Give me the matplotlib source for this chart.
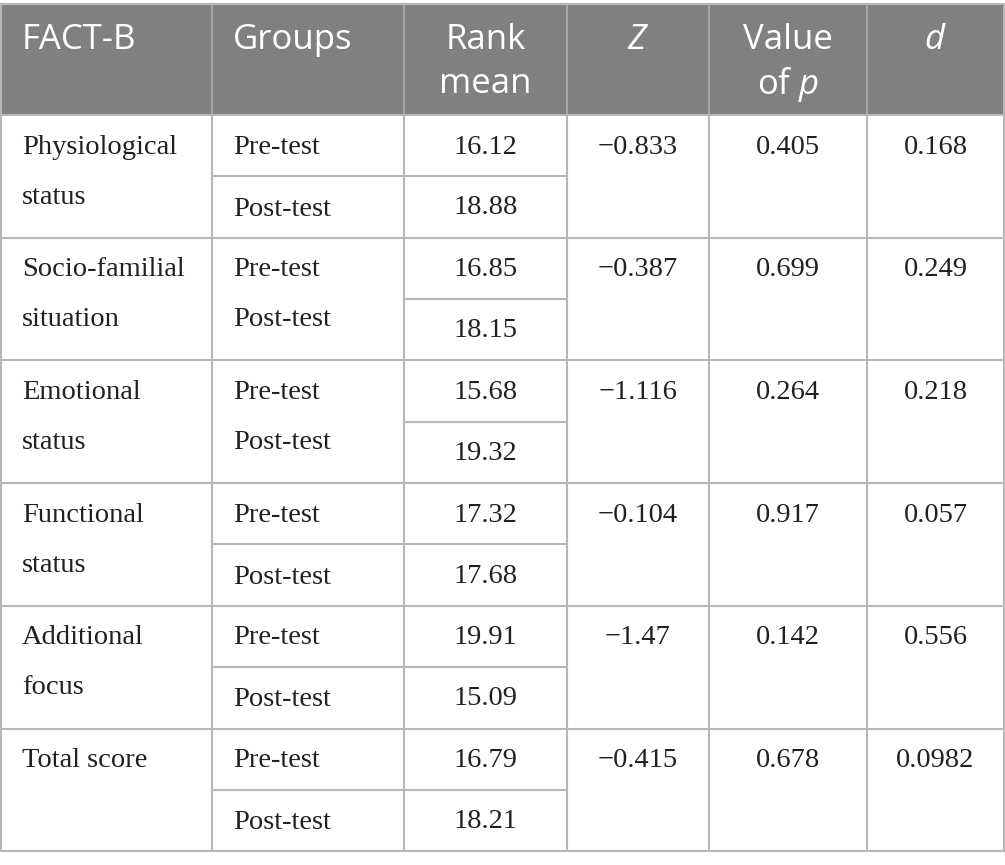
import matplotlib
matplotlib.use("Agg")
import matplotlib.pyplot as plt
from matplotlib.patches import Rectangle

plt.rcParams["mathtext.fontset"] = "custom"
plt.rcParams["mathtext.rm"] = "Open Sans"
plt.rcParams["mathtext.it"] = "Open Sans:italic"

# ---- data ----
headers = ["FACT-B", "Groups", "Rank\nmean", "$\\mathit{Z}$", "Value\nof $\\mathit{p}$", "$\\mathit{d}$"]
categories = ["Physiological\nstatus", "Socio-familial\nsituation", "Emotional\nstatus",
              "Functional\nstatus", "Additional\nfocus", "Total score"]
groups = ["Pre-test", "Post-test"]
rank_pre = ["16.12", "16.85", "15.68", "17.32", "19.91", "16.79"]
rank_post = ["18.88", "18.15", "19.32", "17.68", "15.09", "18.21"]
z_vals = ["\u22120.833", "\u22120.387", "\u22121.116", "\u22120.104", "\u22121.47", "\u22120.415"]
p_vals = ["0.405", "0.699", "0.264", "0.917", "0.142", "0.678"]
d_vals = ["0.168", "0.249", "0.218", "0.057", "0.556", "0.0982"]
merged_groups = [False, True, True, False, False, False]

# ---- layout (pixels) ----
W, H = 1005, 865
col_x = [1, 212, 404, 567, 709, 867, 1004]
top, head_bot = 4, 115
row_h = 122.7
grid_c = "#b8b8b8"
head_c = "#808080"
txt_c = "#231f20"
serif = "Liberation Serif"
sans = "Open Sans"
fs_h, fs_b = 25, 20.5

fig = plt.figure(figsize=(W / 100, H / 100), dpi=100)
ax = fig.add_axes([0, 0, 1, 1])
ax.set_xlim(0, W)
ax.set_ylim(H, 0)
ax.axis("off")

# header
ax.add_patch(Rectangle((col_x[0], top), col_x[-1] - col_x[0], head_bot - top,
                       facecolor=head_c, edgecolor="none"))
for j, h in enumerate(headers):
    parts = h.split("\n")
    if j < 2:
        ax.text(col_x[j] + 21, 40, parts[0], ha="left", va="center", color="white",
                fontsize=fs_h, family=sans)
    else:
        xc = (col_x[j] + col_x[j + 1]) / 2
        for k, part in enumerate(parts):
            ax.text(xc, 40 + k * 44, part, ha="center", va="center", color="white",
                    fontsize=fs_h, family=sans)

# body
n = len(categories)
bottom = head_bot + n * row_h
for i in range(n):
    y0 = head_bot + i * row_h
    ym = y0 + row_h / 2
    for k, ln in enumerate(categories[i].split("\n")):
        ax.text(col_x[0] + 21, y0 + 32 + k * 50, ln, ha="left", va="center",
                color=txt_c, fontsize=fs_b, family=serif)
    # groups
    gy = [y0 + 32, y0 + 82] if merged_groups[i] else [y0 + 32, y0 + 94]
    for g, yy in zip(groups, gy):
        ax.text(col_x[1] + 21, yy, g, ha="left", va="center", color=txt_c,
                fontsize=fs_b, family=serif)
    xr = (col_x[2] + col_x[3]) / 2
    ax.text(xr, y0 + 32, rank_pre[i], ha="center", va="center", color=txt_c,
            fontsize=fs_b, family=serif)
    ax.text(xr, y0 + 93, rank_post[i], ha="center", va="center", color=txt_c,
            fontsize=fs_b, family=serif)
    for j, vals in zip([3, 4, 5], [z_vals, p_vals, d_vals]):
        ax.text((col_x[j] + col_x[j + 1]) / 2, y0 + 32, vals[i], ha="center",
                va="center", color=txt_c, fontsize=fs_b, family=serif)
    # horizontal lines
    ax.plot([col_x[0], col_x[-1]], [y0 + row_h, y0 + row_h], color=grid_c, lw=1.5)
    x_start = col_x[2] if merged_groups[i] else col_x[1]
    ax.plot([x_start, col_x[3]], [ym, ym], color=grid_c, lw=1.5)

# vertical lines
for j, x in enumerate(col_x):
    c = "#a6a6a6" if 0 < j < len(col_x) - 1 else grid_c
    ax.plot([x, x], [top, head_bot], color=c, lw=1.5)
    ax.plot([x, x], [head_bot, bottom], color=grid_c, lw=1.5)
ax.plot([col_x[0], col_x[-1]], [top, top], color=grid_c, lw=1.5)
ax.plot([col_x[0], col_x[-1]], [head_bot, head_bot], color=grid_c, lw=1.5)

fig.savefig("out.png", dpi=100)
